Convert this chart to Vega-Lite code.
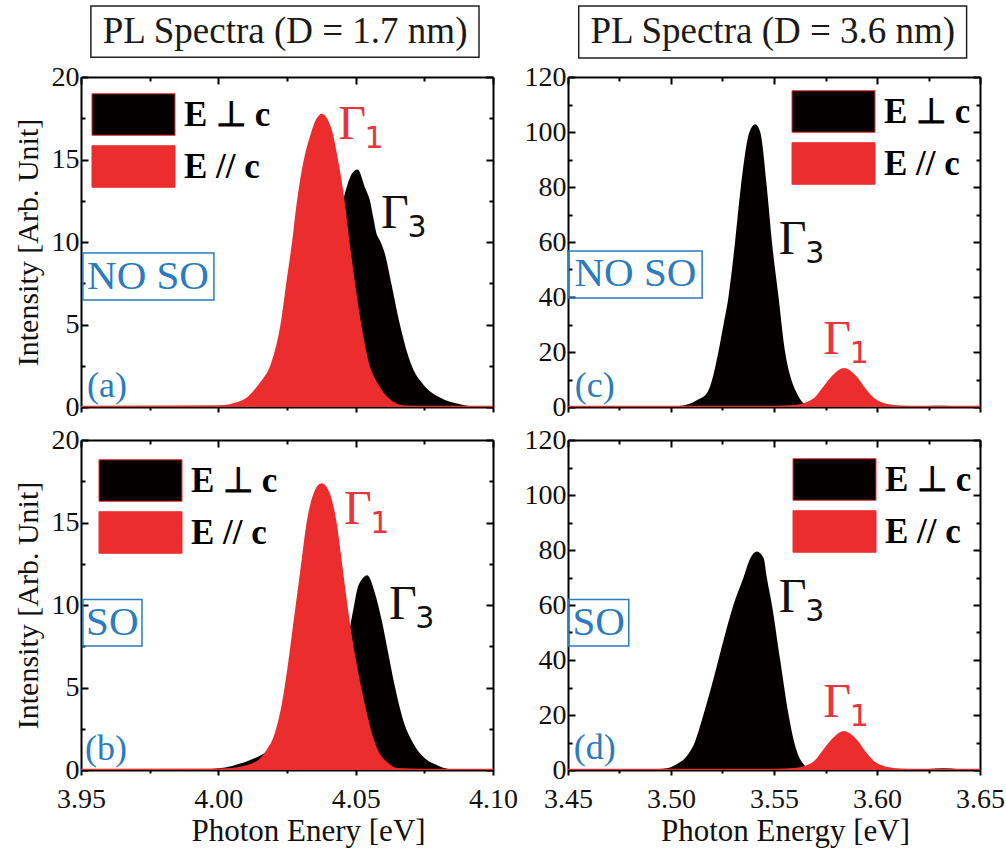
{
"$schema": "https://vega.github.io/schema/vega-lite/v6.json",
"background": "white",
"padding": {"left": 13, "top": 5, "right": 5, "bottom": 5},
"datasets": {
"spec": [
{"p":"a","s":"E ⊥ c","E":3.95,"I":0},{"p":"a","s":"E ⊥ c","E":4.0,"I":0},{"p":"a","s":"E ⊥ c","E":4.01,"I":0.1},{"p":"a","s":"E ⊥ c","E":4.02,"I":0.8},{"p":"a","s":"E ⊥ c","E":4.03,"I":3.0},{"p":"a","s":"E ⊥ c","E":4.035,"I":5.5},{"p":"a","s":"E ⊥ c","E":4.04,"I":9.0},{"p":"a","s":"E ⊥ c","E":4.043,"I":11.0},{"p":"a","s":"E ⊥ c","E":4.0455,"I":12.6},{"p":"a","s":"E ⊥ c","E":4.0485,"I":14.1},{"p":"a","s":"E ⊥ c","E":4.0507,"I":14.4},{"p":"a","s":"E ⊥ c","E":4.0534,"I":13.3},{"p":"a","s":"E ⊥ c","E":4.0552,"I":12.5},{"p":"a","s":"E ⊥ c","E":4.0564,"I":11.5},{"p":"a","s":"E ⊥ c","E":4.0576,"I":10.5},{"p":"a","s":"E ⊥ c","E":4.0588,"I":10.1},{"p":"a","s":"E ⊥ c","E":4.0607,"I":9.25},{"p":"a","s":"E ⊥ c","E":4.0631,"I":7.4},{"p":"a","s":"E ⊥ c","E":4.0661,"I":5.0},{"p":"a","s":"E ⊥ c","E":4.0704,"I":2.5},{"p":"a","s":"E ⊥ c","E":4.0746,"I":1.37},{"p":"a","s":"E ⊥ c","E":4.0807,"I":0.57},{"p":"a","s":"E ⊥ c","E":4.088,"I":0.16},{"p":"a","s":"E ⊥ c","E":4.0964,"I":0},{"p":"a","s":"E ⊥ c","E":4.1,"I":0},
{"p":"a","s":"E // c","E":3.95,"I":0},{"p":"a","s":"E // c","E":4.0,"I":0.03},{"p":"a","s":"E // c","E":4.0091,"I":0.36},{"p":"a","s":"E // c","E":4.0152,"I":1.37},{"p":"a","s":"E // c","E":4.0194,"I":2.5},{"p":"a","s":"E // c","E":4.0231,"I":5.0},{"p":"a","s":"E // c","E":4.0251,"I":7.4},{"p":"a","s":"E // c","E":4.0273,"I":10.0},{"p":"a","s":"E // c","E":4.0291,"I":12.5},{"p":"a","s":"E // c","E":4.0316,"I":15.0},{"p":"a","s":"E // c","E":4.034,"I":16.5},{"p":"a","s":"E // c","E":4.036,"I":17.4},{"p":"a","s":"E // c","E":4.0376,"I":17.7},{"p":"a","s":"E // c","E":4.039,"I":17.5},{"p":"a","s":"E // c","E":4.0413,"I":16.5},{"p":"a","s":"E // c","E":4.0431,"I":15.0},{"p":"a","s":"E // c","E":4.0455,"I":12.5},{"p":"a","s":"E // c","E":4.0473,"I":10.0},{"p":"a","s":"E // c","E":4.0494,"I":7.4},{"p":"a","s":"E // c","E":4.0516,"I":5.0},{"p":"a","s":"E // c","E":4.0546,"I":2.5},{"p":"a","s":"E // c","E":4.0577,"I":1.37},{"p":"a","s":"E // c","E":4.0625,"I":0.36},{"p":"a","s":"E // c","E":4.068,"I":0.02},{"p":"a","s":"E // c","E":4.08,"I":0},{"p":"a","s":"E // c","E":4.1,"I":0},
{"p":"b","s":"E ⊥ c","E":3.95,"I":0},{"p":"b","s":"E ⊥ c","E":3.99,"I":0},{"p":"b","s":"E ⊥ c","E":4.0,"I":0.1},{"p":"b","s":"E ⊥ c","E":4.005,"I":0.25},{"p":"b","s":"E ⊥ c","E":4.01,"I":0.5},{"p":"b","s":"E ⊥ c","E":4.015,"I":0.85},{"p":"b","s":"E ⊥ c","E":4.02,"I":1.3},{"p":"b","s":"E ⊥ c","E":4.025,"I":1.5},{"p":"b","s":"E ⊥ c","E":4.03,"I":1.7},{"p":"b","s":"E ⊥ c","E":4.035,"I":2.2},{"p":"b","s":"E ⊥ c","E":4.04,"I":3.6},{"p":"b","s":"E ⊥ c","E":4.043,"I":5.0},{"p":"b","s":"E ⊥ c","E":4.046,"I":7.0},{"p":"b","s":"E ⊥ c","E":4.049,"I":9.6},{"p":"b","s":"E ⊥ c","E":4.0505,"I":10.9},{"p":"b","s":"E ⊥ c","E":4.0525,"I":11.6},{"p":"b","s":"E ⊥ c","E":4.0542,"I":11.8},{"p":"b","s":"E ⊥ c","E":4.0571,"I":10.67},{"p":"b","s":"E ⊥ c","E":4.0595,"I":9.06},{"p":"b","s":"E ⊥ c","E":4.0619,"I":7.05},{"p":"b","s":"E ⊥ c","E":4.0643,"I":5.04},{"p":"b","s":"E ⊥ c","E":4.0673,"I":3.02},{"p":"b","s":"E ⊥ c","E":4.071,"I":1.61},{"p":"b","s":"E ⊥ c","E":4.0746,"I":0.8},{"p":"b","s":"E ⊥ c","E":4.0795,"I":0.3},{"p":"b","s":"E ⊥ c","E":4.0843,"I":0.05},{"p":"b","s":"E ⊥ c","E":4.09,"I":0},{"p":"b","s":"E ⊥ c","E":4.1,"I":0},
{"p":"b","s":"E // c","E":3.95,"I":0},{"p":"b","s":"E // c","E":4.0,"I":0.02},{"p":"b","s":"E // c","E":4.005,"I":0.05},{"p":"b","s":"E // c","E":4.01,"I":0.2},{"p":"b","s":"E // c","E":4.0152,"I":0.6},{"p":"b","s":"E // c","E":4.0176,"I":1.1},{"p":"b","s":"E // c","E":4.0206,"I":2.01},{"p":"b","s":"E // c","E":4.0236,"I":4.03},{"p":"b","s":"E // c","E":4.0255,"I":6.04},{"p":"b","s":"E // c","E":4.0279,"I":9.06},{"p":"b","s":"E // c","E":4.0303,"I":12.1},{"p":"b","s":"E // c","E":4.0327,"I":15.1},{"p":"b","s":"E // c","E":4.035,"I":16.7},{"p":"b","s":"E // c","E":4.0376,"I":17.3},{"p":"b","s":"E // c","E":4.04,"I":16.8},{"p":"b","s":"E // c","E":4.0425,"I":15.1},{"p":"b","s":"E // c","E":4.0449,"I":12.1},{"p":"b","s":"E // c","E":4.0473,"I":9.06},{"p":"b","s":"E // c","E":4.0503,"I":6.04},{"p":"b","s":"E // c","E":4.0528,"I":4.03},{"p":"b","s":"E // c","E":4.0558,"I":2.01},{"p":"b","s":"E // c","E":4.0582,"I":1.0},{"p":"b","s":"E // c","E":4.0613,"I":0.4},{"p":"b","s":"E // c","E":4.0649,"I":0.05},{"p":"b","s":"E // c","E":4.075,"I":0},{"p":"b","s":"E // c","E":4.1,"I":0},
{"p":"c","s":"E ⊥ c","E":3.45,"I":0},{"p":"c","s":"E ⊥ c","E":3.49,"I":0},{"p":"c","s":"E ⊥ c","E":3.5,"I":0.1},{"p":"c","s":"E ⊥ c","E":3.505,"I":0.5},{"p":"c","s":"E ⊥ c","E":3.509,"I":1.2},{"p":"c","s":"E ⊥ c","E":3.5125,"I":2.5},{"p":"c","s":"E ⊥ c","E":3.5174,"I":5},{"p":"c","s":"E ⊥ c","E":3.52,"I":10},{"p":"c","s":"E ⊥ c","E":3.523,"I":20},{"p":"c","s":"E ⊥ c","E":3.5255,"I":30},{"p":"c","s":"E ⊥ c","E":3.5279,"I":40},{"p":"c","s":"E ⊥ c","E":3.5311,"I":60},{"p":"c","s":"E ⊥ c","E":3.5339,"I":80},{"p":"c","s":"E ⊥ c","E":3.5381,"I":100},{"p":"c","s":"E ⊥ c","E":3.5409,"I":102.8},{"p":"c","s":"E ⊥ c","E":3.5433,"I":100},{"p":"c","s":"E ⊥ c","E":3.5465,"I":80},{"p":"c","s":"E ⊥ c","E":3.549,"I":60},{"p":"c","s":"E ⊥ c","E":3.5522,"I":40},{"p":"c","s":"E ⊥ c","E":3.5554,"I":20},{"p":"c","s":"E ⊥ c","E":3.558,"I":11},{"p":"c","s":"E ⊥ c","E":3.5611,"I":5},{"p":"c","s":"E ⊥ c","E":3.5635,"I":2},{"p":"c","s":"E ⊥ c","E":3.566,"I":0.5},{"p":"c","s":"E ⊥ c","E":3.57,"I":0.1},{"p":"c","s":"E ⊥ c","E":3.58,"I":0},{"p":"c","s":"E ⊥ c","E":3.615,"I":0},{"p":"c","s":"E ⊥ c","E":3.625,"I":0.4},{"p":"c","s":"E ⊥ c","E":3.632,"I":0.5},{"p":"c","s":"E ⊥ c","E":3.64,"I":0.3},{"p":"c","s":"E ⊥ c","E":3.65,"I":0.1},
{"p":"c","s":"E // c","E":3.45,"I":0},{"p":"c","s":"E // c","E":3.55,"I":0},{"p":"c","s":"E // c","E":3.56,"I":0.3},{"p":"c","s":"E // c","E":3.565,"I":1.0},{"p":"c","s":"E // c","E":3.57,"I":3.0},{"p":"c","s":"E // c","E":3.5741,"I":6.85},{"p":"c","s":"E // c","E":3.578,"I":10.5},{"p":"c","s":"E // c","E":3.5838,"I":13.7},{"p":"c","s":"E // c","E":3.59,"I":10.5},{"p":"c","s":"E // c","E":3.5935,"I":6.85},{"p":"c","s":"E // c","E":3.598,"I":3.0},{"p":"c","s":"E // c","E":3.603,"I":1.0},{"p":"c","s":"E // c","E":3.608,"I":0.3},{"p":"c","s":"E // c","E":3.615,"I":0},{"p":"c","s":"E // c","E":3.65,"I":0},
{"p":"d","s":"E ⊥ c","E":3.45,"I":0},{"p":"d","s":"E ⊥ c","E":3.485,"I":0},{"p":"d","s":"E ⊥ c","E":3.49,"I":0.2},{"p":"d","s":"E ⊥ c","E":3.4979,"I":0.6},{"p":"d","s":"E ⊥ c","E":3.5025,"I":2},{"p":"d","s":"E ⊥ c","E":3.5076,"I":5},{"p":"d","s":"E ⊥ c","E":3.5115,"I":10},{"p":"d","s":"E ⊥ c","E":3.5157,"I":20},{"p":"d","s":"E ⊥ c","E":3.5195,"I":30},{"p":"d","s":"E ⊥ c","E":3.523,"I":40},{"p":"d","s":"E ⊥ c","E":3.5265,"I":50},{"p":"d","s":"E ⊥ c","E":3.5303,"I":60},{"p":"d","s":"E ⊥ c","E":3.5352,"I":70},{"p":"d","s":"E ⊥ c","E":3.5385,"I":77},{"p":"d","s":"E ⊥ c","E":3.5417,"I":79.5},{"p":"d","s":"E ⊥ c","E":3.545,"I":77},{"p":"d","s":"E ⊥ c","E":3.5465,"I":70},{"p":"d","s":"E ⊥ c","E":3.549,"I":60},{"p":"d","s":"E ⊥ c","E":3.553,"I":40},{"p":"d","s":"E ⊥ c","E":3.5571,"I":20},{"p":"d","s":"E ⊥ c","E":3.5595,"I":11},{"p":"d","s":"E ⊥ c","E":3.562,"I":5},{"p":"d","s":"E ⊥ c","E":3.5645,"I":2},{"p":"d","s":"E ⊥ c","E":3.5668,"I":0.5},{"p":"d","s":"E ⊥ c","E":3.572,"I":0.1},{"p":"d","s":"E ⊥ c","E":3.58,"I":0},{"p":"d","s":"E ⊥ c","E":3.615,"I":0},{"p":"d","s":"E ⊥ c","E":3.625,"I":0.4},{"p":"d","s":"E ⊥ c","E":3.632,"I":0.6},{"p":"d","s":"E ⊥ c","E":3.64,"I":0.3},{"p":"d","s":"E ⊥ c","E":3.65,"I":0.1},
{"p":"d","s":"E // c","E":3.45,"I":0},{"p":"d","s":"E // c","E":3.55,"I":0},{"p":"d","s":"E // c","E":3.56,"I":0.3},{"p":"d","s":"E // c","E":3.565,"I":1.0},{"p":"d","s":"E // c","E":3.57,"I":3.0},{"p":"d","s":"E // c","E":3.5741,"I":6.85},{"p":"d","s":"E // c","E":3.578,"I":10.5},{"p":"d","s":"E // c","E":3.5838,"I":13.7},{"p":"d","s":"E // c","E":3.59,"I":10.5},{"p":"d","s":"E // c","E":3.5935,"I":6.85},{"p":"d","s":"E // c","E":3.598,"I":3.0},{"p":"d","s":"E // c","E":3.603,"I":1.0},{"p":"d","s":"E // c","E":3.608,"I":0.3},{"p":"d","s":"E // c","E":3.615,"I":0},{"p":"d","s":"E // c","E":3.65,"I":0}
],
"notes": [
{"p":"a","kind":"gamma","s":"E // c","text":"Γ","sub":"1","x":4.0487,"y":16.24},
{"p":"a","kind":"gamma","s":"E ⊥ c","text":"Γ","sub":"3","x":4.0643,"y":10.85},
{"p":"a","kind":"tag","text":"(a)","x":3.9595,"y":1.27},
{"p":"a","kind":"so","text":"NO SO","x":3.9744,"y":7.9},
{"p":"a","kind":"sobox","x":3.9507,"x2":3.9984,"y":6.48,"y2":9.33},
{"p":"a","kind":"title","text":"PL Spectra (D = 1.7 nm)","x":4.0243,"y":22.7},
{"p":"a","kind":"titlebox","x":3.9536,"x2":4.0949,"y":21.2,"y2":24.3},
{"p":"b","kind":"gamma","s":"E // c","text":"Γ","sub":"1","x":4.0508,"y":14.9},
{"p":"b","kind":"gamma","s":"E ⊥ c","text":"Γ","sub":"3","x":4.0672,"y":9.17},
{"p":"b","kind":"tag","text":"(b)","x":3.9591,"y":1.3},
{"p":"b","kind":"so","text":"SO","x":3.9614,"y":8.92},
{"p":"b","kind":"sobox","x":3.9507,"x2":3.9722,"y":7.51,"y2":10.33},
{"p":"c","kind":"gamma","s":"E ⊥ c","text":"Γ","sub":"3","x":3.5591,"y":55.6},
{"p":"c","kind":"gamma","s":"E // c","text":"Γ","sub":"1","x":3.5807,"y":19.3},
{"p":"c","kind":"tag","text":"(c)","x":3.463,"y":7.6},
{"p":"c","kind":"so","text":"NO SO","x":3.4827,"y":48.2},
{"p":"c","kind":"sobox","x":3.4503,"x2":3.5151,"y":39.6,"y2":56.7},
{"p":"c","kind":"title","text":"PL Spectra (D = 3.6 nm)","x":3.5494,"y":136.4},
{"p":"c","kind":"titlebox","x":3.4552,"x2":3.6435,"y":126.9,"y2":145.8},
{"p":"d","kind":"gamma","s":"E ⊥ c","text":"Γ","sub":"3","x":3.5591,"y":57.3},
{"p":"d","kind":"gamma","s":"E // c","text":"Γ","sub":"1","x":3.5807,"y":19.2},
{"p":"d","kind":"tag","text":"(d)","x":3.463,"y":8.0},
{"p":"d","kind":"so","text":"SO","x":3.4649,"y":53.5},
{"p":"d","kind":"sobox","x":3.4503,"x2":3.4795,"y":45.07,"y2":62.0}
]
},
"columns": 2,
"spacing": {"row": 33, "column": 75},
"bounds": "flush",
"resolve": {"scale": {"color": "independent"}, "legend": {"color": "independent"}},
"concat": [
{
"width": 412, "height": 330,
"layer": [
{"data": {"name": "spec"}, "transform": [{"filter": "datum.p == 'a' && datum.s == 'E ⊥ c'"}],
 "mark": {"type": "area", "interpolate": "monotone", "clip": true},
 "encoding": {
  "x": {"field": "E", "type": "quantitative", "scale": {"domain": [3.95, 4.1], "nice": false, "zero": false}, "axis": {"orient": "bottom", "values": [3.95, 4.0, 4.05, 4.1], "labels": false, "tickSize": 5, "title": null}},
  "y": {"field": "I", "type": "quantitative", "scale": {"domain": [0, 20], "nice": false}, "axis": {"orient": "left", "values": [0, 5, 10, 15, 20], "format": "d", "tickSize": -7, "labelPadding": 9, "title": "Intensity [Arb. Unit]", "titlePadding": 8}},
  "color": {"field": "s", "type": "nominal", "scale": {"domain": ["E ⊥ c", "E // c"], "range": ["#050000", "#ec2d2d"]},
   "legend": {"orient": "none", "legendX": 31, "legendY": 16, "title": null, "symbolType": "M-2,-1H2V1H-2Z", "symbolSize": 1722, "symbolStrokeColor": "#222", "symbolStrokeWidth": 1, "symbolOpacity": 1, "labelFont": "Liberation Serif", "labelFontSize": 35, "labelFontWeight": "bold", "labelColor": "#000", "labelOffset": 29, "rowPadding": 5, "padding": 0}}
 }},
{"data": {"name": "spec"}, "transform": [{"filter": "datum.p == 'a' && datum.s == 'E // c'"}],
 "mark": {"type": "area", "interpolate": "monotone", "clip": true, "stroke": "#ec2d2d", "strokeWidth": 2.5},
 "encoding": {
  "x": {"field": "E", "type": "quantitative", "scale": {"domain": [3.95, 4.1], "nice": false, "zero": false}, "axis": {"orient": "top", "values": [3.95, 4.0, 4.05, 4.1], "labels": false, "tickSize": -7, "title": null}},
  "y": {"field": "I", "type": "quantitative", "scale": {"domain": [0, 20], "nice": false}, "axis": {"orient": "right", "values": [0, 5, 10, 15, 20], "labels": false, "tickSize": -7, "title": null}},
  "color": {"field": "s", "type": "nominal", "scale": {"domain": ["E ⊥ c", "E // c"], "range": ["#050000", "#ec2d2d"]}}
 }},
{"data": {"name": "notes"}, "transform": [{"filter": "datum.p == 'a' && datum.kind == 'gamma'"}],
 "mark": {"type": "text", "font": "Liberation Serif", "fontSize": 48, "baseline": "alphabetic", "align": "center", "clip": false},
 "encoding": {
  "x": {"field": "x", "type": "quantitative", "scale": {"domain": [3.95, 4.1], "nice": false, "zero": false}, "axis": {"orient": "bottom", "values": [3.975, 4.025, 4.075], "labels": false, "domain": false, "tickSize": 3, "title": null}},
  "y": {"field": "y", "type": "quantitative", "scale": {"domain": [0, 20], "nice": false}, "axis": {"orient": "left", "values": [2.5, 7.5, 12.5, 17.5], "labels": false, "domain": false, "tickSize": -4, "title": null}},
  "text": {"field": "text"},
  "color": {"condition": {"test": "datum.s == 'E // c'", "value": "#e8343a"}, "value": "#111111"}
 }},
{"data": {"name": "notes"}, "transform": [{"filter": "datum.p == 'a' && datum.kind == 'gamma'"}],
 "mark": {"type": "text", "font": "DejaVu Sans", "fontSize": 30, "baseline": "alphabetic", "align": "center", "dx": 22, "dy": 9, "clip": false},
 "encoding": {
  "x": {"field": "x", "type": "quantitative", "scale": {"domain": [3.95, 4.1], "nice": false, "zero": false}, "axis": {"orient": "top", "values": [3.975, 4.025, 4.075], "labels": false, "domain": false, "tickSize": -4, "title": null}},
  "y": {"field": "y", "type": "quantitative", "scale": {"domain": [0, 20], "nice": false}, "axis": {"orient": "right", "values": [2.5, 7.5, 12.5, 17.5], "labels": false, "domain": false, "tickSize": -4, "title": null}},
  "text": {"field": "sub"},
  "color": {"condition": {"test": "datum.s == 'E // c'", "value": "#e8343a"}, "value": "#111111"}
 }},
{"data": {"name": "notes"}, "transform": [{"filter": "datum.p == 'a' && (datum.kind == 'sobox' || datum.kind == 'titlebox')"}],
 "mark": {"type": "rect", "fillOpacity": 0, "strokeWidth": 1.5, "clip": false},
 "encoding": {
  "x": {"field": "x", "type": "quantitative", "scale": {"domain": [3.95, 4.1], "nice": false, "zero": false}, "axis": null},
  "x2": {"field": "x2"},
  "y": {"field": "y", "type": "quantitative", "scale": {"domain": [0, 20], "nice": false}, "axis": null},
  "y2": {"field": "y2"},
  "stroke": {"condition": {"test": "datum.kind == 'titlebox'", "value": "#222222"}, "value": "#2b7bbf"}
 }},
{"data": {"name": "notes"}, "transform": [{"filter": "datum.p == 'a' && (datum.kind == 'so' || datum.kind == 'tag' || datum.kind == 'title')"}],
 "mark": {"type": "text", "font": "Liberation Serif", "baseline": "middle", "align": "center", "clip": false},
 "encoding": {
  "x": {"field": "x", "type": "quantitative", "scale": {"domain": [3.95, 4.1], "nice": false, "zero": false}, "axis": null},
  "y": {"field": "y", "type": "quantitative", "scale": {"domain": [0, 20], "nice": false}, "axis": null},
  "text": {"field": "text"},
  "size": {"condition": [{"test": "datum.kind == 'title'", "value": 37}, {"test": "datum.kind == 'tag'", "value": 36}], "value": 41},
  "color": {"condition": {"test": "datum.kind == 'title'", "value": "#1a1a1a"}, "value": "#2b7bbf"}
 }}
],
"resolve": {"axis": {"x": "independent", "y": "independent"}}
},
{
"width": 412, "height": 330,
"layer": [
{"data": {"name": "spec"}, "transform": [{"filter": "datum.p == 'c' && datum.s == 'E ⊥ c'"}],
 "mark": {"type": "area", "interpolate": "monotone", "clip": true},
 "encoding": {
  "x": {"field": "E", "type": "quantitative", "scale": {"domain": [3.45, 3.65], "nice": false, "zero": false}, "axis": {"orient": "bottom", "values": [3.45, 3.5, 3.55, 3.6, 3.65], "labels": false, "tickSize": 5, "title": null}},
  "y": {"field": "I", "type": "quantitative", "scale": {"domain": [0, 120], "nice": false}, "axis": {"orient": "left", "values": [0, 20, 40, 60, 80, 100, 120], "format": "d", "tickSize": -7, "labelPadding": 9, "title": null}},
  "color": {"field": "s", "type": "nominal", "scale": {"domain": ["E ⊥ c", "E // c"], "range": ["#050000", "#ec2d2d"]},
   "legend": {"orient": "none", "legendX": 244, "legendY": 13, "title": null, "symbolType": "M-2,-1H2V1H-2Z", "symbolSize": 1722, "symbolStrokeColor": "#222", "symbolStrokeWidth": 1, "symbolOpacity": 1, "labelFont": "Liberation Serif", "labelFontSize": 35, "labelFontWeight": "bold", "labelColor": "#000", "labelOffset": 29, "rowPadding": 5, "padding": 0}}
 }},
{"data": {"name": "spec"}, "transform": [{"filter": "datum.p == 'c' && datum.s == 'E // c'"}],
 "mark": {"type": "area", "interpolate": "monotone", "clip": true, "stroke": "#ec2d2d", "strokeWidth": 2.5},
 "encoding": {
  "x": {"field": "E", "type": "quantitative", "scale": {"domain": [3.45, 3.65], "nice": false, "zero": false}, "axis": {"orient": "top", "values": [3.45, 3.5, 3.55, 3.6, 3.65], "labels": false, "tickSize": -7, "title": null}},
  "y": {"field": "I", "type": "quantitative", "scale": {"domain": [0, 120], "nice": false}, "axis": {"orient": "right", "values": [0, 20, 40, 60, 80, 100, 120], "labels": false, "tickSize": -7, "title": null}},
  "color": {"field": "s", "type": "nominal", "scale": {"domain": ["E ⊥ c", "E // c"], "range": ["#050000", "#ec2d2d"]}}
 }},
{"data": {"name": "notes"}, "transform": [{"filter": "datum.p == 'c' && datum.kind == 'gamma'"}],
 "mark": {"type": "text", "font": "Liberation Serif", "fontSize": 48, "baseline": "alphabetic", "align": "center", "clip": false},
 "encoding": {
  "x": {"field": "x", "type": "quantitative", "scale": {"domain": [3.45, 3.65], "nice": false, "zero": false}, "axis": {"orient": "bottom", "values": [3.475, 3.525, 3.575, 3.625], "labels": false, "domain": false, "tickSize": 3, "title": null}},
  "y": {"field": "y", "type": "quantitative", "scale": {"domain": [0, 120], "nice": false}, "axis": {"orient": "left", "values": [10, 30, 50, 70, 90, 110], "labels": false, "domain": false, "tickSize": -4, "title": null}},
  "text": {"field": "text"},
  "color": {"condition": {"test": "datum.s == 'E // c'", "value": "#e8343a"}, "value": "#111111"}
 }},
{"data": {"name": "notes"}, "transform": [{"filter": "datum.p == 'c' && datum.kind == 'gamma'"}],
 "mark": {"type": "text", "font": "DejaVu Sans", "fontSize": 30, "baseline": "alphabetic", "align": "center", "dx": 22, "dy": 9, "clip": false},
 "encoding": {
  "x": {"field": "x", "type": "quantitative", "scale": {"domain": [3.45, 3.65], "nice": false, "zero": false}, "axis": {"orient": "top", "values": [3.475, 3.525, 3.575, 3.625], "labels": false, "domain": false, "tickSize": -4, "title": null}},
  "y": {"field": "y", "type": "quantitative", "scale": {"domain": [0, 120], "nice": false}, "axis": {"orient": "right", "values": [10, 30, 50, 70, 90, 110], "labels": false, "domain": false, "tickSize": -4, "title": null}},
  "text": {"field": "sub"},
  "color": {"condition": {"test": "datum.s == 'E // c'", "value": "#e8343a"}, "value": "#111111"}
 }},
{"data": {"name": "notes"}, "transform": [{"filter": "datum.p == 'c' && (datum.kind == 'sobox' || datum.kind == 'titlebox')"}],
 "mark": {"type": "rect", "fillOpacity": 0, "strokeWidth": 1.5, "clip": false},
 "encoding": {
  "x": {"field": "x", "type": "quantitative", "scale": {"domain": [3.45, 3.65], "nice": false, "zero": false}, "axis": null},
  "x2": {"field": "x2"},
  "y": {"field": "y", "type": "quantitative", "scale": {"domain": [0, 120], "nice": false}, "axis": null},
  "y2": {"field": "y2"},
  "stroke": {"condition": {"test": "datum.kind == 'titlebox'", "value": "#222222"}, "value": "#2b7bbf"}
 }},
{"data": {"name": "notes"}, "transform": [{"filter": "datum.p == 'c' && (datum.kind == 'so' || datum.kind == 'tag' || datum.kind == 'title')"}],
 "mark": {"type": "text", "font": "Liberation Serif", "baseline": "middle", "align": "center", "clip": false},
 "encoding": {
  "x": {"field": "x", "type": "quantitative", "scale": {"domain": [3.45, 3.65], "nice": false, "zero": false}, "axis": null},
  "y": {"field": "y", "type": "quantitative", "scale": {"domain": [0, 120], "nice": false}, "axis": null},
  "text": {"field": "text"},
  "size": {"condition": [{"test": "datum.kind == 'title'", "value": 37}, {"test": "datum.kind == 'tag'", "value": 36}], "value": 41},
  "color": {"condition": {"test": "datum.kind == 'title'", "value": "#1a1a1a"}, "value": "#2b7bbf"}
 }}
],
"resolve": {"axis": {"x": "independent", "y": "independent"}}
},
{
"width": 412, "height": 330,
"layer": [
{"data": {"name": "spec"}, "transform": [{"filter": "datum.p == 'b' && datum.s == 'E ⊥ c'"}],
 "mark": {"type": "area", "interpolate": "monotone", "clip": true},
 "encoding": {
  "x": {"field": "E", "type": "quantitative", "scale": {"domain": [3.95, 4.1], "nice": false, "zero": false}, "axis": {"orient": "bottom", "values": [3.95, 4.0, 4.05, 4.1], "format": ".2f", "tickSize": 5, "labelPadding": 10, "title": "Photon Enery [eV]", "titleFontSize": 31, "titleX": 227, "titlePadding": 3}},
  "y": {"field": "I", "type": "quantitative", "scale": {"domain": [0, 20], "nice": false}, "axis": {"orient": "left", "values": [0, 5, 10, 15, 20], "format": "d", "tickSize": -7, "labelPadding": 9, "title": "Intensity [Arb. Unit]", "titlePadding": 8}},
  "color": {"field": "s", "type": "nominal", "scale": {"domain": ["E ⊥ c", "E // c"], "range": ["#050000", "#ec2d2d"]},
   "legend": {"orient": "none", "legendX": 38, "legendY": 19, "title": null, "symbolType": "M-2,-1H2V1H-2Z", "symbolSize": 1722, "symbolStrokeColor": "#222", "symbolStrokeWidth": 1, "symbolOpacity": 1, "labelFont": "Liberation Serif", "labelFontSize": 35, "labelFontWeight": "bold", "labelColor": "#000", "labelOffset": 29, "rowPadding": 5, "padding": 0}}
 }},
{"data": {"name": "spec"}, "transform": [{"filter": "datum.p == 'b' && datum.s == 'E // c'"}],
 "mark": {"type": "area", "interpolate": "monotone", "clip": true, "stroke": "#ec2d2d", "strokeWidth": 2.5},
 "encoding": {
  "x": {"field": "E", "type": "quantitative", "scale": {"domain": [3.95, 4.1], "nice": false, "zero": false}, "axis": {"orient": "top", "values": [3.95, 4.0, 4.05, 4.1], "labels": false, "tickSize": -7, "title": null}},
  "y": {"field": "I", "type": "quantitative", "scale": {"domain": [0, 20], "nice": false}, "axis": {"orient": "right", "values": [0, 5, 10, 15, 20], "labels": false, "tickSize": -7, "title": null}},
  "color": {"field": "s", "type": "nominal", "scale": {"domain": ["E ⊥ c", "E // c"], "range": ["#050000", "#ec2d2d"]}}
 }},
{"data": {"name": "notes"}, "transform": [{"filter": "datum.p == 'b' && datum.kind == 'gamma'"}],
 "mark": {"type": "text", "font": "Liberation Serif", "fontSize": 48, "baseline": "alphabetic", "align": "center", "clip": false},
 "encoding": {
  "x": {"field": "x", "type": "quantitative", "scale": {"domain": [3.95, 4.1], "nice": false, "zero": false}, "axis": {"orient": "bottom", "values": [3.975, 4.025, 4.075], "labels": false, "domain": false, "tickSize": 3, "title": null}},
  "y": {"field": "y", "type": "quantitative", "scale": {"domain": [0, 20], "nice": false}, "axis": {"orient": "left", "values": [2.5, 7.5, 12.5, 17.5], "labels": false, "domain": false, "tickSize": -4, "title": null}},
  "text": {"field": "text"},
  "color": {"condition": {"test": "datum.s == 'E // c'", "value": "#e8343a"}, "value": "#111111"}
 }},
{"data": {"name": "notes"}, "transform": [{"filter": "datum.p == 'b' && datum.kind == 'gamma'"}],
 "mark": {"type": "text", "font": "DejaVu Sans", "fontSize": 30, "baseline": "alphabetic", "align": "center", "dx": 22, "dy": 9, "clip": false},
 "encoding": {
  "x": {"field": "x", "type": "quantitative", "scale": {"domain": [3.95, 4.1], "nice": false, "zero": false}, "axis": {"orient": "top", "values": [3.975, 4.025, 4.075], "labels": false, "domain": false, "tickSize": -4, "title": null}},
  "y": {"field": "y", "type": "quantitative", "scale": {"domain": [0, 20], "nice": false}, "axis": {"orient": "right", "values": [2.5, 7.5, 12.5, 17.5], "labels": false, "domain": false, "tickSize": -4, "title": null}},
  "text": {"field": "sub"},
  "color": {"condition": {"test": "datum.s == 'E // c'", "value": "#e8343a"}, "value": "#111111"}
 }},
{"data": {"name": "notes"}, "transform": [{"filter": "datum.p == 'b' && (datum.kind == 'sobox' || datum.kind == 'titlebox')"}],
 "mark": {"type": "rect", "fillOpacity": 0, "strokeWidth": 1.5, "clip": false},
 "encoding": {
  "x": {"field": "x", "type": "quantitative", "scale": {"domain": [3.95, 4.1], "nice": false, "zero": false}, "axis": null},
  "x2": {"field": "x2"},
  "y": {"field": "y", "type": "quantitative", "scale": {"domain": [0, 20], "nice": false}, "axis": null},
  "y2": {"field": "y2"},
  "stroke": {"condition": {"test": "datum.kind == 'titlebox'", "value": "#222222"}, "value": "#2b7bbf"}
 }},
{"data": {"name": "notes"}, "transform": [{"filter": "datum.p == 'b' && (datum.kind == 'so' || datum.kind == 'tag' || datum.kind == 'title')"}],
 "mark": {"type": "text", "font": "Liberation Serif", "baseline": "middle", "align": "center", "clip": false},
 "encoding": {
  "x": {"field": "x", "type": "quantitative", "scale": {"domain": [3.95, 4.1], "nice": false, "zero": false}, "axis": null},
  "y": {"field": "y", "type": "quantitative", "scale": {"domain": [0, 20], "nice": false}, "axis": null},
  "text": {"field": "text"},
  "size": {"condition": [{"test": "datum.kind == 'title'", "value": 37}, {"test": "datum.kind == 'tag'", "value": 36}], "value": 41},
  "color": {"condition": {"test": "datum.kind == 'title'", "value": "#1a1a1a"}, "value": "#2b7bbf"}
 }}
],
"resolve": {"axis": {"x": "independent", "y": "independent"}}
},
{
"width": 412, "height": 330,
"layer": [
{"data": {"name": "spec"}, "transform": [{"filter": "datum.p == 'd' && datum.s == 'E ⊥ c'"}],
 "mark": {"type": "area", "interpolate": "monotone", "clip": true},
 "encoding": {
  "x": {"field": "E", "type": "quantitative", "scale": {"domain": [3.45, 3.65], "nice": false, "zero": false}, "axis": {"orient": "bottom", "values": [3.45, 3.5, 3.55, 3.6, 3.65], "format": ".2f", "tickSize": 5, "labelPadding": 10, "title": "Photon Energy [eV]", "titleFontSize": 31, "titleX": 217, "titlePadding": 3}},
  "y": {"field": "I", "type": "quantitative", "scale": {"domain": [0, 120], "nice": false}, "axis": {"orient": "left", "values": [0, 20, 40, 60, 80, 100, 120], "format": "d", "tickSize": -7, "labelPadding": 9, "title": null}},
  "color": {"field": "s", "type": "nominal", "scale": {"domain": ["E ⊥ c", "E // c"], "range": ["#050000", "#ec2d2d"]},
   "legend": {"orient": "none", "legendX": 245, "legendY": 18, "title": null, "symbolType": "M-2,-1H2V1H-2Z", "symbolSize": 1722, "symbolStrokeColor": "#222", "symbolStrokeWidth": 1, "symbolOpacity": 1, "labelFont": "Liberation Serif", "labelFontSize": 35, "labelFontWeight": "bold", "labelColor": "#000", "labelOffset": 29, "rowPadding": 5, "padding": 0}}
 }},
{"data": {"name": "spec"}, "transform": [{"filter": "datum.p == 'd' && datum.s == 'E // c'"}],
 "mark": {"type": "area", "interpolate": "monotone", "clip": true, "stroke": "#ec2d2d", "strokeWidth": 2.5},
 "encoding": {
  "x": {"field": "E", "type": "quantitative", "scale": {"domain": [3.45, 3.65], "nice": false, "zero": false}, "axis": {"orient": "top", "values": [3.45, 3.5, 3.55, 3.6, 3.65], "labels": false, "tickSize": -7, "title": null}},
  "y": {"field": "I", "type": "quantitative", "scale": {"domain": [0, 120], "nice": false}, "axis": {"orient": "right", "values": [0, 20, 40, 60, 80, 100, 120], "labels": false, "tickSize": -7, "title": null}},
  "color": {"field": "s", "type": "nominal", "scale": {"domain": ["E ⊥ c", "E // c"], "range": ["#050000", "#ec2d2d"]}}
 }},
{"data": {"name": "notes"}, "transform": [{"filter": "datum.p == 'd' && datum.kind == 'gamma'"}],
 "mark": {"type": "text", "font": "Liberation Serif", "fontSize": 48, "baseline": "alphabetic", "align": "center", "clip": false},
 "encoding": {
  "x": {"field": "x", "type": "quantitative", "scale": {"domain": [3.45, 3.65], "nice": false, "zero": false}, "axis": {"orient": "bottom", "values": [3.475, 3.525, 3.575, 3.625], "labels": false, "domain": false, "tickSize": 3, "title": null}},
  "y": {"field": "y", "type": "quantitative", "scale": {"domain": [0, 120], "nice": false}, "axis": {"orient": "left", "values": [10, 30, 50, 70, 90, 110], "labels": false, "domain": false, "tickSize": -4, "title": null}},
  "text": {"field": "text"},
  "color": {"condition": {"test": "datum.s == 'E // c'", "value": "#e8343a"}, "value": "#111111"}
 }},
{"data": {"name": "notes"}, "transform": [{"filter": "datum.p == 'd' && datum.kind == 'gamma'"}],
 "mark": {"type": "text", "font": "DejaVu Sans", "fontSize": 30, "baseline": "alphabetic", "align": "center", "dx": 22, "dy": 9, "clip": false},
 "encoding": {
  "x": {"field": "x", "type": "quantitative", "scale": {"domain": [3.45, 3.65], "nice": false, "zero": false}, "axis": {"orient": "top", "values": [3.475, 3.525, 3.575, 3.625], "labels": false, "domain": false, "tickSize": -4, "title": null}},
  "y": {"field": "y", "type": "quantitative", "scale": {"domain": [0, 120], "nice": false}, "axis": {"orient": "right", "values": [10, 30, 50, 70, 90, 110], "labels": false, "domain": false, "tickSize": -4, "title": null}},
  "text": {"field": "sub"},
  "color": {"condition": {"test": "datum.s == 'E // c'", "value": "#e8343a"}, "value": "#111111"}
 }},
{"data": {"name": "notes"}, "transform": [{"filter": "datum.p == 'd' && (datum.kind == 'sobox' || datum.kind == 'titlebox')"}],
 "mark": {"type": "rect", "fillOpacity": 0, "strokeWidth": 1.5, "clip": false},
 "encoding": {
  "x": {"field": "x", "type": "quantitative", "scale": {"domain": [3.45, 3.65], "nice": false, "zero": false}, "axis": null},
  "x2": {"field": "x2"},
  "y": {"field": "y", "type": "quantitative", "scale": {"domain": [0, 120], "nice": false}, "axis": null},
  "y2": {"field": "y2"},
  "stroke": {"condition": {"test": "datum.kind == 'titlebox'", "value": "#222222"}, "value": "#2b7bbf"}
 }},
{"data": {"name": "notes"}, "transform": [{"filter": "datum.p == 'd' && (datum.kind == 'so' || datum.kind == 'tag' || datum.kind == 'title')"}],
 "mark": {"type": "text", "font": "Liberation Serif", "baseline": "middle", "align": "center", "clip": false},
 "encoding": {
  "x": {"field": "x", "type": "quantitative", "scale": {"domain": [3.45, 3.65], "nice": false, "zero": false}, "axis": null},
  "y": {"field": "y", "type": "quantitative", "scale": {"domain": [0, 120], "nice": false}, "axis": null},
  "text": {"field": "text"},
  "size": {"condition": [{"test": "datum.kind == 'title'", "value": 37}, {"test": "datum.kind == 'tag'", "value": 36}], "value": 41},
  "color": {"condition": {"test": "datum.kind == 'title'", "value": "#1a1a1a"}, "value": "#2b7bbf"}
 }}
],
"resolve": {"axis": {"x": "independent", "y": "independent"}}
}
],
"config": {
 "view": {"stroke": null},
 "axis": {"domainColor": "#000000", "domainWidth": 2, "tickColor": "#000000", "tickWidth": 2, "labelFont": "Liberation Serif", "labelFontSize": 28, "labelColor": "#111111", "titleFont": "Liberation Serif", "titleFontSize": 30, "titleFontWeight": "normal", "titleColor": "#111111", "grid": false, "labelFlush": false, "labelOverlap": false}
}
}
